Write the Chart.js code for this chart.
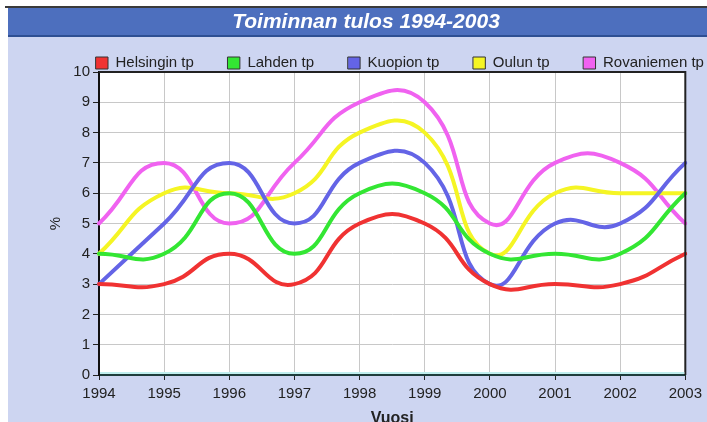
<!DOCTYPE html>
<html><head><meta charset="utf-8">
<script src="https://cdn.jsdelivr.net/npm/chart.js@4"></script>
<style>html,body{margin:0;padding:0;background:#fff}#wrap{width:707px;height:422px;position:relative}</style>
</head><body><div id="wrap"><canvas id="c" width="707" height="422"></canvas></div>
<script>
const years = ['1994','1995','1996','1997','1998','1999','2000','2001','2002','2003'];
const seriesNames = ['Helsingin tp','Lahden tp','Kuopion tp','Oulun tp','Rovaniemen tp'];
const helsinki  = [3,3,4,3,5,5,3,3,3,4];
const lahti     = [4,4,6,4,6,6,4,4,4,6];
const kuopio    = [3,5,7,5,7,7,3,5,5,7];
const oulu      = [4,6,6,6,8,8,4,6,6,6];
const rovaniemi = [5,7,5,7,9,9,5,7,7,5];
const yMin = 0, yMax = 10, yStep = 1;
const chartTitle = 'Toiminnan tulos 1994-2003';
const xTitle = 'Vuosi';
const yTitle = '%';

const colors = ['#f03232','#33e633','#6464e6','#f5f524','#f062f0'];
const FONT = "'Liberation Sans', Arial, sans-serif";
const LEGEND_START = 96;

const panelPlugin = {
  id: 'panel',
  afterLayout(chart) {
    const lg = chart.legend;
    if (lg && lg.lineWidths) {
      const pad = lg.options.labels.padding;
      const cur = (lg.left + pad + lg.right - lg.lineWidths[0]) / 2;
      const dx = LEGEND_START - cur;
      lg.left += dx; lg.right += dx;
    }
  },
  beforeDraw(chart) {
    const ctx = chart.ctx, a = chart.chartArea;
    ctx.save();
    ctx.fillStyle = '#ffffff'; ctx.fillRect(0, 0, 707, 422);
    ctx.fillStyle = '#cdd5f1'; ctx.fillRect(8, 7, 699, 415);
    ctx.fillStyle = '#3a3a3a'; ctx.fillRect(5, 6, 702, 2);
    ctx.fillStyle = '#4d6fbe'; ctx.fillRect(8, 8, 699, 29);
    ctx.fillStyle = '#2e4f93'; ctx.fillRect(8, 35, 699, 2);
    ctx.font = 'italic bold 21px ' + FONT;
    ctx.fillStyle = '#ffffff'; ctx.textAlign = 'center'; ctx.textBaseline = 'middle';
    ctx.fillText(chartTitle, 366, 22);
    ctx.fillStyle = '#ffffff'; ctx.fillRect(a.left, a.top, a.right - a.left, a.bottom - a.top);
    ctx.restore();
  },
  afterDraw(chart) {
    const ctx = chart.ctx, a = chart.chartArea;
    ctx.save();
    ctx.strokeStyle = '#222'; ctx.lineWidth = 2;
    ctx.beginPath();
    ctx.moveTo(a.left, a.top); ctx.lineTo(a.right, a.top); ctx.lineTo(a.right, a.bottom);
    ctx.stroke();
    ctx.strokeStyle = '#bfeeee'; ctx.lineWidth = 2;
    ctx.beginPath(); ctx.moveTo(a.left + 1, a.bottom - 2); ctx.lineTo(a.right - 1, a.bottom - 2); ctx.stroke();
    ctx.restore();
  }
};

const dataSets = [helsinki, lahti, kuopio, oulu, rovaniemi];
new Chart(document.getElementById('c'), {
  type: 'line',
  data: {
    labels: years,
    datasets: dataSets.map((d, i) => ({
      label: seriesNames[i],
      data: d,
      borderColor: colors[i],
      backgroundColor: colors[i],
      borderWidth: 4,
      pointRadius: 0,
      tension: 0.5,
      fill: false,
      borderCapStyle: 'round'
    }))
  },
  options: {
    responsive: false,
    animation: false,
    devicePixelRatio: 1,
    layout: { padding: { left: 8, right: 19, top: 21.5, bottom: 0 } },
    plugins: {
      title: { display: false },
      tooltip: { enabled: false },
      legend: {
        display: true,
        position: 'top',
        fullSize: true,
        align: 'center',
        maxHeight: 50.5,
        labels: {
          boxWidth: 12, boxHeight: 12, padding: 34,
          color: '#222',
          font: { family: FONT, size: 15 },
          generateLabels(chart) {
            const items = Chart.defaults.plugins.legend.labels.generateLabels(chart);
            items.forEach(it => { it.strokeStyle = '#333'; it.lineWidth = 1; });
            return items;
          }
        }
      }
    },
    scales: {
      x: {
        type: 'category',
        offset: false,
        afterFit(s) { s.height = 47; },
        grid: { color: '#c8c8c8', lineWidth: 1, tickColor: '#222', tickLength: 5, drawTicks: true },
        border: { display: true, color: '#1e3c3c', width: 2 },
        ticks: { color: '#222', font: { family: FONT, size: 15 }, padding: 5, maxRotation: 0, autoSkip: false },
        title: { display: true, text: xTitle, color: '#222', font: { family: FONT, size: 16, weight: 'bold', lineHeight: 0.4 }, padding: { top: 0, bottom: 0 } }
      },
      y: {
        min: yMin, max: yMax,
        afterFit(s) { s.width = 91; },
        grid: { color: '#c8c8c8', lineWidth: 1, tickColor: '#222', tickLength: 6 },
        border: { display: true, color: '#111', width: 2 },
        ticks: { stepSize: yStep, color: '#222', font: { family: FONT, size: 15 }, padding: 3 },
        title: { display: true, text: yTitle, color: '#222', font: { family: FONT, size: 15 }, padding: { top: 39, bottom: 0 } }
      }
    }
  },
  plugins: [panelPlugin]
});
</script>
</body></html>
